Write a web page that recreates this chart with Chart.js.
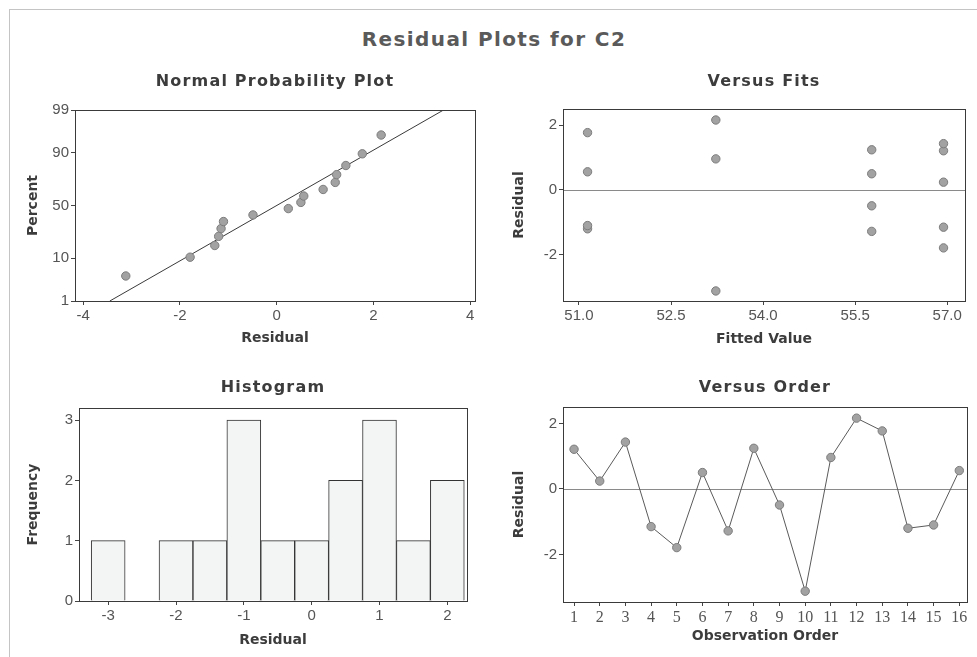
<!DOCTYPE html>
<html>
<head>
<meta charset="utf-8">
<title>Residual Plots for C2</title>
<script src="https://cdn.jsdelivr.net/npm/chart.js@4.4.1/dist/chart.umd.min.js"></script>
<style>
  body { margin: 0; background: #fff; }
  #page { position: relative; width: 977px; height: 657px; overflow: hidden; background: #fff; }
  #frame { position: absolute; left: 9px; top: 9px; width: 990px; height: 670px;
           border-left: 1px solid #c4c4c4; border-top: 1px solid #c4c4c4; }
  #title { position: absolute; left: 0; width: 988px; top: 27px; line-height: 24px; text-align: center;
           font: bold 20px 'DejaVu Sans', sans-serif; letter-spacing: 1.4px; color: #5a5a5a; }
  canvas { position: absolute; }
</style>
</head>
<body>
<div id="page">
  <div id="frame"></div>
  <div id="title">Residual Plots for C2</div>
  <canvas id="npp" width="480" height="295" style="left:10px;top:60px"></canvas>
  <canvas id="fits" width="477" height="295" style="left:500px;top:60px"></canvas>
  <canvas id="hist" width="480" height="297" style="left:10px;top:360px"></canvas>
  <canvas id="order" width="477" height="297" style="left:500px;top:360px"></canvas>
</div>
<script>
// residuals in observation order
const residuals = [1.21, 0.24, 1.43, -1.15, -1.79, 0.50, -1.28, 1.24, -0.49, -3.12, 0.96, 2.16, 1.77, -1.20, -1.10, 0.56];
const fittedValues = [56.94, 56.94, 56.94, 56.94, 56.94, 55.77, 55.77, 55.77, 55.77, 53.23, 53.23, 53.23, 51.14, 51.14, 51.14, 51.14];
const observationOrder = [1, 2, 3, 4, 5, 6, 7, 8, 9, 10, 11, 12, 13, 14, 15, 16];

// normal probability plot
const sortedResiduals = [-3.12, -1.79, -1.28, -1.20, -1.15, -1.10, -0.49, 0.24, 0.50, 0.56, 0.96, 1.21, 1.24, 1.43, 1.77, 2.16];
const nppPercents = [4.3, 10.4, 16.5, 22.6, 28.7, 34.8, 40.9, 47.0, 53.0, 59.1, 65.2, 71.3, 77.4, 83.5, 89.6, 95.7];
const fitLineResidual = [-3.45, 3.45];
const fitLinePercent = [1, 99];
const percentTicks = [1, 10, 50, 90, 99];
const residualTicks = [-4, -2, 0, 2, 4];

// histogram
const binMidpoints = [-3, -2.5, -2, -1.5, -1, -0.5, 0, 0.5, 1, 1.5, 2];
const binCounts = [1, 0, 1, 1, 3, 1, 1, 2, 3, 1, 2];
const histTicks = [-3, -2, -1, 0, 1, 2];
const freqTicks = [0, 1, 2, 3];

// versus plots
const fitTicks = [51.0, 52.5, 54.0, 55.5, 57.0];
const residTicksY = [-2, 0, 2];

// probability scale: percent -> normal quantile
function probit(p) {
  const a = [-39.69683028665376, 220.9460984245205, -275.9285104469687, 138.3577518672690, -30.66479806614716, 2.506628277459239];
  const b = [-54.47609879822406, 161.5858368580409, -155.6989798598866, 66.80131188771972, -13.28068155288572];
  const c = [-0.007784894002430293, -0.3223964580411365, -2.400758277161838, -2.549732539343734, 4.374664141464968, 2.938163982698783];
  const d = [0.007784695709041462, 0.3224671290700398, 2.445134137142996, 3.754408661907416];
  const pl = 0.02425;
  let q, r;
  if (p < pl) {
    q = Math.sqrt(-2 * Math.log(p));
    return (((((c[0]*q+c[1])*q+c[2])*q+c[3])*q+c[4])*q+c[5]) / ((((d[0]*q+d[1])*q+d[2])*q+d[3])*q+1);
  }
  if (p > 1 - pl) {
    q = Math.sqrt(-2 * Math.log(1 - p));
    return -(((((c[0]*q+c[1])*q+c[2])*q+c[3])*q+c[4])*q+c[5]) / ((((d[0]*q+d[1])*q+d[2])*q+d[3])*q+1);
  }
  q = p - 0.5; r = q * q;
  return (((((a[0]*r+a[1])*r+a[2])*r+a[3])*r+a[4])*r+a[5])*q / (((((b[0]*r+b[1])*r+b[2])*r+b[3])*r+b[4])*r+1);
}
const pz = pct => probit(pct / 100);

// box around plot area, panel title, optional zero line
const panel = {
  id: 'panel',
  beforeDatasetsDraw(chart, args, opts) {
    if (!opts.zeroLine) return;
    const {ctx, chartArea: a} = chart;
    const y = Math.round(chart.scales.y.getPixelForValue(0)) + 0.5;
    ctx.save();
    ctx.strokeStyle = '#8a8a8a';
    ctx.lineWidth = 1;
    ctx.beginPath();
    ctx.moveTo(a.left, y);
    ctx.lineTo(a.right, y);
    ctx.stroke();
    ctx.restore();
  },
  afterDatasetsDraw(chart, args, opts) {
    const {ctx, chartArea: a} = chart;
    ctx.save();
    ctx.strokeStyle = '#3a3a3a';
    ctx.lineWidth = 1;
    ctx.strokeRect(Math.round(a.left) + 0.5, Math.round(a.top) + 0.5,
                   Math.round(a.right - a.left), Math.round(a.bottom - a.top));
    ctx.font = 'bold 16px "DejaVu Sans"';
    ctx.letterSpacing = '1.2px';
    ctx.fillStyle = '#3c3c3c';
    ctx.textAlign = 'center';
    ctx.textBaseline = 'middle';
    ctx.fillText(opts.text, (a.left + a.right) / 2, a.top - opts.gap);
    ctx.restore();
  }
};

function axis(min, max, ticks, fmt, size, title, titlePad, family, tickSize) {
  return {
    type: 'linear', min: min, max: max, offset: false,
    afterBuildTicks: s => { s.ticks = ticks.map(v => ({ value: v })); },
    afterFit: s => { if (s.isHorizontal()) s.height = size; else s.width = size; },
    grid: { drawOnChartArea: false, drawTicks: true, tickLength: 4, color: '#444', offset: false },
    border: { display: false },
    ticks: { color: '#555', font: { family: family || 'Liberation Sans', size: tickSize || 15 },
             padding: 2, maxRotation: 0, autoSkip: false, callback: fmt },
    title: { display: true, text: title, color: '#3c3c3c',
             font: { family: 'DejaVu Sans', weight: 'bold', size: 14 }, padding: titlePad }
  };
}

const pointStyle = { pointRadius: 4.2, pointBackgroundColor: '#a2a2a2', pointBorderColor: '#7c7c7c', pointBorderWidth: 1 };
const common = { responsive: false, animation: false, events: [] };

// Normal Probability Plot
new Chart(document.getElementById('npp'), {
  type: 'scatter',
  data: {
    datasets: [
      { data: sortedResiduals.map((x, i) => ({ x: x, y: pz(nppPercents[i]) })), ...pointStyle },
      { type: 'line', data: fitLineResidual.map((x, i) => ({ x: x, y: pz(fitLinePercent[i]) })),
        showLine: true, pointRadius: 0, borderColor: '#3a3a3a', borderWidth: 1, fill: false }
    ]
  },
  options: {
    ...common,
    layout: { padding: { top: 50, right: 15, left: 0, bottom: 0 } },
    plugins: { legend: { display: false }, tooltip: { enabled: false }, panel: { text: 'Normal Probability Plot', gap: 28 } },
    scales: {
      x: axis(-4.17, 4.1, residualTicks, v => String(v), 54, 'Residual', { top: 0, bottom: 8.6 }),
      y: axis(pz(1), pz(99), percentTicks.map(pz), (v, i) => String(percentTicks[i]), 65, 'Percent', { top: 14.6, bottom: 0 })
    }
  },
  plugins: [panel]
});

// Versus Fits
new Chart(document.getElementById('fits'), {
  type: 'scatter',
  data: { datasets: [{ data: fittedValues.map((x, i) => ({ x: x, y: residuals[i] })), ...pointStyle }] },
  options: {
    ...common,
    layout: { padding: { top: 49, right: 12, left: 0, bottom: 0 } },
    plugins: { legend: { display: false }, tooltip: { enabled: false }, panel: { text: 'Versus Fits', gap: 27, zeroLine: true } },
    scales: {
      x: axis(50.74, 57.29, fitTicks, v => v.toFixed(1), 54, 'Fitted Value', { top: 0, bottom: 7.6 }),
      y: axis(-3.43, 2.5, residTicksY, v => String(v), 63, 'Residual', { top: 10.6, bottom: 0 })
    }
  },
  plugins: [panel]
});

// Histogram
new Chart(document.getElementById('hist'), {
  type: 'bar',
  data: {
    datasets: [{
      data: binMidpoints.map((x, i) => ({ x: x, y: binCounts[i] })),
      backgroundColor: '#f3f4f4', borderColor: '#333', borderWidth: 1,
      barPercentage: 1, categoryPercentage: 1
    }]
  },
  options: {
    ...common,
    layout: { padding: { top: 48, right: 23, left: 0, bottom: 0 } },
    plugins: { legend: { display: false }, tooltip: { enabled: false }, panel: { text: 'Histogram', gap: 20 } },
    scales: {
      x: axis(-3.43, 2.29, histTicks, v => String(v), 56, 'Residual', { top: 0, bottom: 8.6 }),
      y: axis(0, 3.2, freqTicks, v => String(v), 69, 'Frequency', { top: 14.6, bottom: 0 })
    }
  },
  plugins: [panel]
});

// Versus Order
new Chart(document.getElementById('order'), {
  type: 'scatter',
  data: {
    datasets: [{
      data: observationOrder.map((x, i) => ({ x: x, y: residuals[i] })),
      showLine: true, borderColor: '#5a5a5a', borderWidth: 1, ...pointStyle
    }]
  },
  options: {
    ...common,
    layout: { padding: { top: 47, right: 10, left: 0, bottom: 0 } },
    plugins: { legend: { display: false }, tooltip: { enabled: false }, panel: { text: 'Versus Order', gap: 19, zeroLine: true } },
    scales: {
      x: axis(0.57, 16.3, observationOrder, v => String(v), 55, 'Observation Order', { top: 0, bottom: 12.6 }, 'Liberation Serif', 16),
      y: axis(-3.45, 2.5, residTicksY, v => String(v), 63, 'Residual', { top: 10.6, bottom: 0 })
    }
  },
  plugins: [panel]
});
</script>
</body>
</html>
